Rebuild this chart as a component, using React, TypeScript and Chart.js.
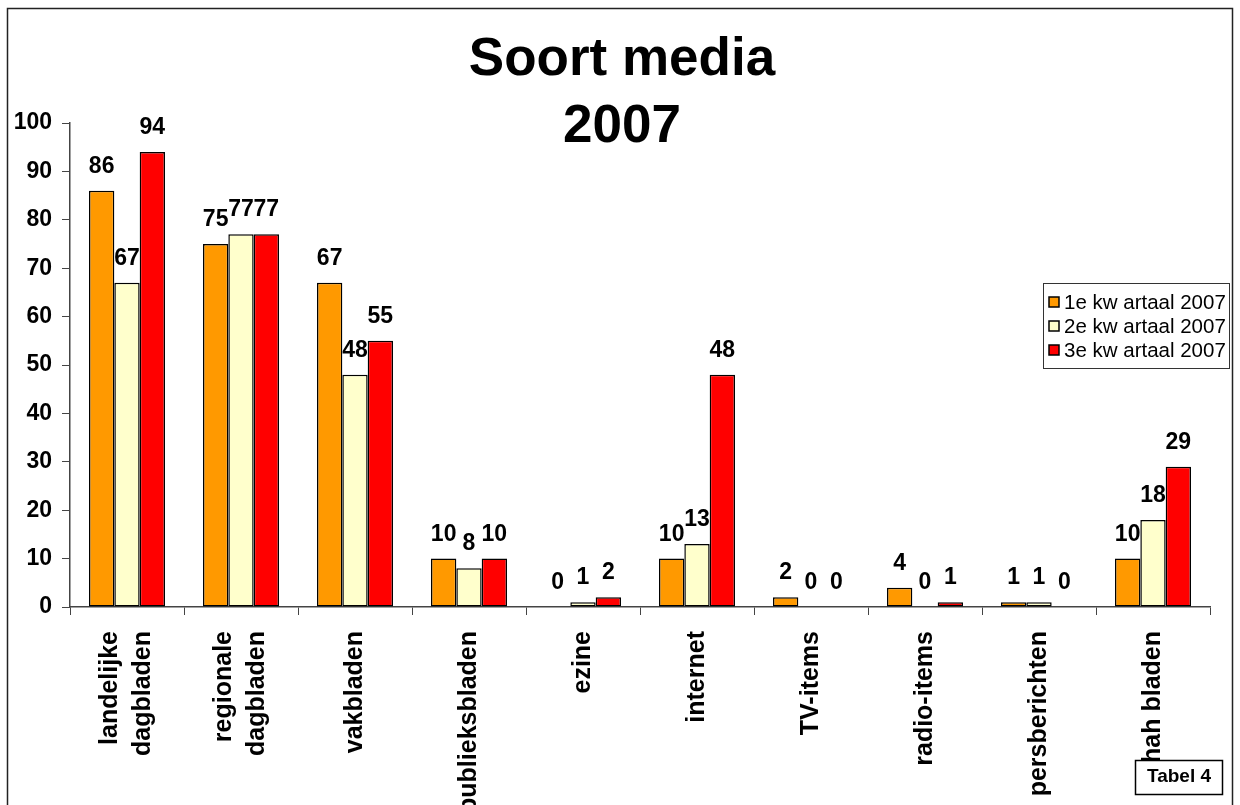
import React, { useEffect, useRef } from "react";
import { Chart, registerables } from "chart.js";

Chart.register(...registerables);

const categories: (string | string[])[] = [
  ["landelijke", "dagbladen"],
  ["regionale", "dagbladen"],
  "vakbladen",
  "publieksbladen",
  "ezine",
  "internet",
  "TV-items",
  "radio-items",
  "persberichten",
  "hah bladen",
];
const q1 = [86, 75, 67, 10, 0, 10, 2, 4, 1, 10];
const q2 = [67, 77, 48, 8, 1, 13, 0, 0, 1, 18];
const q3 = [94, 77, 55, 10, 2, 48, 0, 1, 0, 29];
const seriesNames = ["1e kw artaal 2007", "2e kw artaal 2007", "3e kw artaal 2007"];
const seriesColors = ["#FF9900", "#FFFFCC", "#FF0000"];
const titleLines = ["Soort media", "2007"];
const footnote = "Tabel 4";

const FONT = '"Liberation Sans", Arial, Helvetica, sans-serif';

const decorPlugin = {
  id: "decor",
  beforeDraw(chart: any) {
    const ctx = chart.ctx;
    ctx.save();
    ctx.fillStyle = "#ffffff";
    ctx.fillRect(0, 0, chart.width, chart.height);
    ctx.restore();
  },
  afterDatasetsDraw(chart: any) {
    const ctx = chart.ctx;
    ctx.save();
    ctx.font = `bold 23px ${FONT}`;
    ctx.fillStyle = "#000";
    ctx.textAlign = "center";
    ctx.textBaseline = "alphabetic";
    chart.data.datasets.forEach((ds: any, i: number) => {
      const meta = chart.getDatasetMeta(i);
      meta.data.forEach((bar: any, j: number) => {
        ctx.fillText(String(ds.data[j]), bar.x, bar.y - 18);
      });
    });
    ctx.restore();
  },
  afterDraw(chart: any) {
    const ctx = chart.ctx;
    const xs = chart.scales.x;
    ctx.save();
    // category labels (rotated, reading upwards)
    ctx.fillStyle = "#000";
    ctx.font = `bold 25px ${FONT}`;
    ctx.textAlign = "right";
    ctx.textBaseline = "middle";
    const labels = chart.data.labels as (string | string[])[];
    labels.forEach((lab, i) => {
      const lines = Array.isArray(lab) ? lab : [lab];
      const cx = xs.getPixelForTick(i);
      ctx.save();
      ctx.translate(cx, 631);
      ctx.rotate(-Math.PI / 2);
      lines.forEach((ln, j) => {
        const off = (j - (lines.length - 1) / 2) * 33;
        ctx.fillText(ln, 0, off);
      });
      ctx.restore();
    });
    // outer border
    ctx.strokeStyle = "#222";
    ctx.lineWidth = 1.5;
    ctx.strokeRect(7.5, 8.5, 1225, 820);
    // title
    ctx.fillStyle = "#000";
    ctx.font = `bold 53px ${FONT}`;
    ctx.textAlign = "center";
    ctx.textBaseline = "alphabetic";
    ctx.fillText(titleLines[0], 622, 75);
    ctx.fillText(titleLines[1], 622, 142);
    // legend
    ctx.lineWidth = 1;
    ctx.strokeStyle = "#333";
    ctx.fillStyle = "#fff";
    ctx.fillRect(1043, 283, 186, 85);
    ctx.strokeRect(1043.5, 283.5, 186, 85);
    ctx.font = `20.5px ${FONT}`;
    ctx.textAlign = "left";
    ctx.textBaseline = "middle";
    seriesNames.forEach((name, i) => {
      const y = 302 + i * 24;
      ctx.fillStyle = seriesColors[i];
      ctx.fillRect(1049, y - 5, 10, 10);
      ctx.strokeStyle = "#000";
      ctx.lineWidth = 1.5;
      ctx.strokeRect(1049, y - 5, 10, 10);
      ctx.fillStyle = "#000";
      ctx.fillText(name, 1064, y + 1);
    });
    // footnote box
    ctx.fillStyle = "#fff";
    ctx.fillRect(1135, 760, 88, 35);
    ctx.strokeStyle = "#000";
    ctx.lineWidth = 1.5;
    ctx.strokeRect(1135.5, 760.5, 87, 34);
    ctx.fillStyle = "#000";
    ctx.font = `bold 19px ${FONT}`;
    ctx.textAlign = "center";
    ctx.fillText(footnote, 1179, 777);
    ctx.restore();
  },
};

export default function App() {
  const ref = useRef<HTMLCanvasElement | null>(null);
  useEffect(() => {
    if (!ref.current) return;
    const chart = new Chart(ref.current, {
      type: "bar",
      data: {
        labels: categories,
        datasets: [q1, q2, q3].map((d, i) => ({
          label: seriesNames[i],
          data: d,
          backgroundColor: seriesColors[i],
          borderColor: "#000",
          borderWidth: 1.5,
          borderSkipped: false,
          categoryPercentage: 0.667,
          barPercentage: 1,
        })),
      },
      options: {
        responsive: false,
        animation: false,
        devicePixelRatio: 1,
        layout: { padding: { left: 0, right: 30, top: 123, bottom: 0 } },
        plugins: {
          legend: { display: false },
          title: { display: false },
          tooltip: { enabled: false },
        },
        scales: {
          x: {
            afterFit: (s: any) => {
              s.height = 198;
            },
            border: { display: true, color: "#444", width: 1.5 },
            grid: {
              display: true,
              drawOnChartArea: false,
              drawTicks: true,
              tickLength: 8,
              color: "#444",
              offset: true,
            },
            ticks: {
              display: false,
              autoSkip: false,
            },
          },
          y: {
            min: 0,
            max: 100,
            afterFit: (s: any) => {
              s.width = 70;
            },
            border: { display: true, color: "#444", width: 1.5 },
            grid: {
              display: true,
              drawOnChartArea: false,
              drawTicks: true,
              tickLength: 8,
              color: "#444",
            },
            ticks: {
              stepSize: 10,
              padding: 10,
              color: "#000",
              font: { family: FONT, size: 23, weight: "bold" },
            },
          },
        },
      },
      plugins: [decorPlugin],
    } as any);
    return () => chart.destroy();
  }, []);
  return (
    <div style={{ position: "fixed", left: 0, top: 0, width: 1240, height: 805, overflow: "hidden", background: "#fff" }}>
      <canvas ref={ref} width={1240} height={805} style={{ width: 1240, height: 805, display: "block" }} />
    </div>
  );
}
